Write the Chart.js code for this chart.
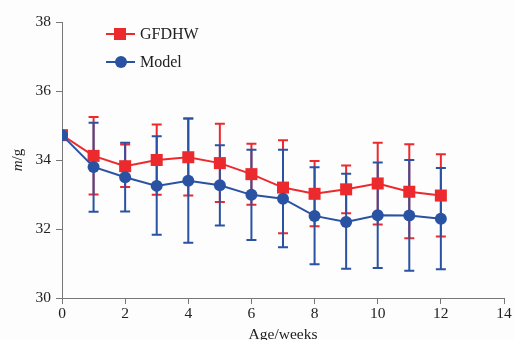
<!DOCTYPE html>
<html>
<head>
<meta charset="utf-8">
<script src="https://cdn.jsdelivr.net/npm/chart.js@4/dist/chart.umd.min.js"></script>
<style>
  html, body { margin: 0; padding: 0; background: #fdfdfd; }
  #wrap { width: 514px; height: 340px; }
</style>
</head>
<body>
<div id="wrap"><canvas id="c" width="514" height="340"></canvas></div>
<script>
// Age in weeks
const weeks = [0, 1, 2, 3, 4, 5, 6, 7, 8, 9, 10, 11, 12];

// GFDHW body mass (g) with error bar ends
const gfdhwMean  = [34.72, 34.12, 33.82, 34.0, 34.08, 33.91, 33.59, 33.2, 33.02, 33.15, 33.32, 33.08, 32.97];
const gfdhwUpper = [34.72, 35.25, 34.45, 35.03, 35.2, 35.05, 34.47, 34.57, 33.97, 33.84, 34.5, 34.46, 34.17];
const gfdhwLower = [34.72, 33.0, 33.22, 32.99, 32.97, 32.78, 32.7, 31.88, 32.08, 32.46, 32.13, 31.73, 31.78];

// Model body mass (g) with error bar ends
const modelMean  = [34.72, 33.8, 33.5, 33.25, 33.4, 33.27, 32.99, 32.88, 32.38, 32.2, 32.4, 32.39, 32.3];
const modelUpper = [34.72, 35.08, 34.5, 34.69, 35.2, 34.43, 34.3, 34.3, 33.79, 33.6, 33.93, 34.0, 33.77];
const modelLower = [34.72, 32.5, 32.51, 31.83, 31.6, 32.1, 31.68, 31.47, 30.98, 30.85, 30.87, 30.79, 30.83];

const RED = '#ec2a2e';
const BLUE = '#2a52a2';
const AXIS = '#777';
const FONT = '"Liberation Serif", "DejaVu Serif", serif';

// error bars drawn before the lines, through the chart scales
const errorBars = {
  id: 'errorBars',
  beforeDatasetsDraw(chart) {
    const { ctx, scales: { x, y } } = chart;
    chart.data.datasets.forEach(ds => {
      ctx.save();
      ctx.strokeStyle = ds.borderColor;
      ctx.lineWidth = 2;
      ds.data.forEach((p, i) => {
        const px = x.getPixelForValue(p.x);
        const top = y.getPixelForValue(ds.upper[i]);
        const bot = y.getPixelForValue(ds.lower[i]);
        if (Math.abs(bot - top) < 1) return;
        ctx.beginPath();
        ctx.moveTo(px, top); ctx.lineTo(px, bot);
        ctx.moveTo(px - 5, top); ctx.lineTo(px + 5, top);
        ctx.moveTo(px - 5, bot); ctx.lineTo(px + 5, bot);
        ctx.stroke();
      });
      ctx.restore();
    });
  },
};

// legend inside plot + y title with italic m
const extras = {
  id: 'extras',
  afterDraw(chart) {
    const { ctx } = chart;
    const rows = [
      { ds: chart.data.datasets[0], y: 34 },
      { ds: chart.data.datasets[1], y: 62 },
    ];
    rows.forEach(r => {
      ctx.save();
      ctx.strokeStyle = r.ds.borderColor;
      ctx.fillStyle = r.ds.backgroundColor;
      ctx.lineWidth = 2;
      ctx.beginPath();
      ctx.moveTo(106, r.y); ctx.lineTo(135, r.y);
      ctx.stroke();
      if (r.ds.pointStyle === 'rect') {
        ctx.fillRect(114, r.y - 6, 12, 12);
      } else {
        ctx.beginPath();
        ctx.arc(121, r.y, 6, 0, Math.PI * 2);
        ctx.fill();
      }
      ctx.fillStyle = '#222';
      ctx.font = '16px ' + FONT;
      ctx.textBaseline = 'middle';
      ctx.fillText(r.ds.label, 140, r.y + 1);
      ctx.restore();
    });

    ctx.save();
    ctx.translate(22, 160);
    ctx.rotate(-Math.PI / 2);
    ctx.fillStyle = '#222';
    ctx.textBaseline = 'alphabetic';
    ctx.font = 'italic 15px ' + FONT;
    const w1 = ctx.measureText('m').width;
    ctx.font = '15px ' + FONT;
    const w2 = ctx.measureText('/g').width;
    const start = -(w1 + w2) / 2;
    ctx.font = 'italic 15px ' + FONT;
    ctx.fillText('m', start, 0);
    ctx.font = '15px ' + FONT;
    ctx.fillText('/g', start + w1, 0);
    ctx.restore();
  },
};

const toPts = arr => arr.map((v, i) => ({ x: weeks[i], y: v }));

new Chart(document.getElementById('c'), {
  type: 'line',
  data: {
    datasets: [
      {
        label: 'GFDHW',
        data: toPts(gfdhwMean),
        upper: gfdhwUpper,
        lower: gfdhwLower,
        borderColor: RED,
        backgroundColor: RED,
        borderWidth: 2,
        pointStyle: 'rect',
        pointRadius: 8.5,
        pointBorderWidth: 0,
        order: 1,
      },
      {
        label: 'Model',
        data: toPts(modelMean),
        upper: modelUpper,
        lower: modelLower,
        borderColor: BLUE,
        backgroundColor: BLUE,
        borderWidth: 2,
        pointStyle: 'circle',
        pointRadius: 6,
        pointBorderWidth: 0,
        order: 0,
      },
    ],
  },
  options: {
    responsive: false,
    animation: false,
    layout: { padding: { top: 22, right: 10, left: 0, bottom: 0 } },
    plugins: { legend: { display: false }, tooltip: { enabled: false } },
    scales: {
      x: {
        type: 'linear',
        min: 0, max: 14,
        afterFit(s) { s.height = 42; },
        ticks: { stepSize: 2, color: '#222', font: { family: FONT, size: 15.5 }, padding: 1 },
        grid: { drawOnChartArea: false, tickLength: 6, color: AXIS },
        border: { color: AXIS, width: 1 },
        title: {
          display: true, text: 'Age/weeks', color: '#222',
          font: { family: FONT, size: 15.5, lineHeight: 1 },
          padding: { top: 0, bottom: -3 },
        },
      },
      y: {
        min: 30, max: 38,
        afterFit(s) { s.width = 62; },
        ticks: { stepSize: 2, color: '#222', font: { family: FONT, size: 15.5 }, padding: 5 },
        grid: { drawOnChartArea: false, tickLength: 6, color: AXIS },
        border: { color: AXIS, width: 1 },
      },
    },
  },
  plugins: [errorBars, extras],
});
</script>
</body>
</html>
